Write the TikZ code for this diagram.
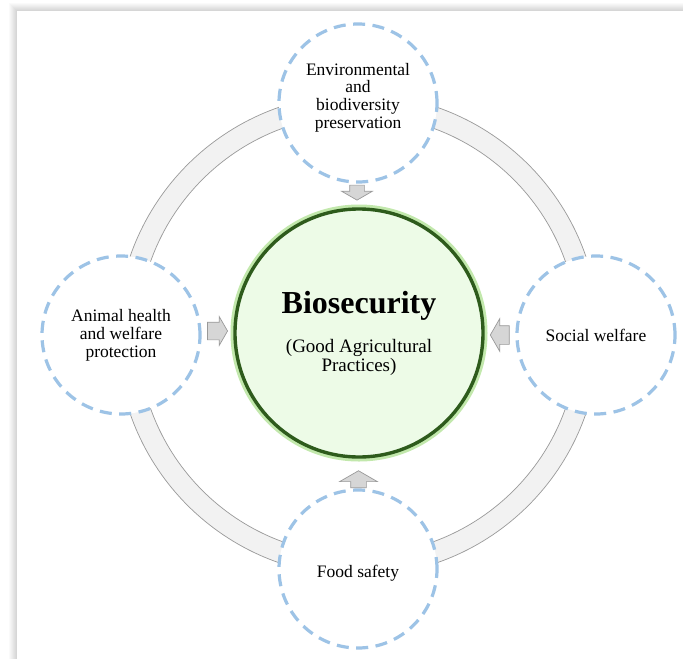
\documentclass[tikz,border=0pt]{standalone}
\usepackage{fontspec}
\setmainfont{Liberation Serif}
\usetikzlibrary{shapes.arrows}
\definecolor{dashblue}{HTML}{9DC3E6}
\definecolor{ringfill}{HTML}{F2F2F2}
\definecolor{ringline}{HTML}{9A9A9A}
\definecolor{arrfill}{HTML}{D6D6D6}
\definecolor{arrline}{HTML}{999999}
\definecolor{corefill}{HTML}{EDFBE7}
\definecolor{coreline}{HTML}{2E5B1C}
\definecolor{coreglow}{HTML}{C2E8AC}
\begin{document}
\begin{tikzpicture}[x=1pt,y=-1pt,
  sat/.style={circle, draw=dashblue, fill=white, line width=3.2pt, dash pattern=on 12pt off 7.5pt, minimum size=158pt, inner sep=0pt},
  lbl/.style={align=center, font=\fontsize{17.5}{17.8}\selectfont, inner sep=0pt},
  barrow/.style={single arrow, draw=arrline, fill=arrfill, line width=0.7pt, single arrow tip angle=120, inner xsep=0pt}]
\useasboundingbox (0,0) rectangle (683,659);
% panel shadow
\foreach \i in {0,...,7} {
  \pgfmathsetmacro\sh{2+2*\i}
  \fill[black!\sh] (9+\i,3+\i) rectangle (683,659);
}
\fill[white] (17,11) rectangle (683,659);
% ring
\fill[ringfill, even odd rule] (358,335) circle[radius=241pt] (358,335) circle[radius=220pt];
\draw[ringline, line width=0.7pt] (358,335) circle[radius=241pt] (358,335) circle[radius=220pt];
% satellites
\node[sat] (env) at (358,103) {};
\node[sat] (ani) at (121,335) {};
\node[sat] (soc) at (596,335) {};
\node[sat] (food) at (358,569) {};
% core
\draw[coreglow, line width=9pt] (359,333) circle[radius=124pt];
\node[circle, fill=corefill, draw=coreline, line width=3.4pt, minimum size=248pt, inner sep=0pt] (core) at (359,333) {};
% arrows
\node[barrow, rotate=-90, inner ysep=7pt, minimum height=15pt, minimum width=30pt, single arrow head extend=8pt] (aenv) at (357,190.5) {};
\node[barrow, rotate=0, inner ysep=8.5pt, minimum height=20pt, minimum width=28pt, single arrow head extend=5.5pt] (aani) at (215,331) {};
\node[barrow, rotate=180, inner ysep=9pt, minimum height=19pt, minimum width=32pt, single arrow head extend=7pt] (asoc) at (502.5,335) {};
\node[barrow, rotate=90, inner ysep=7.5pt, minimum height=17pt, minimum width=37pt, single arrow head extend=11pt] (afood) at (358.5,481.5) {};
% texts
\node[lbl] (envt) at (358,97.5) {Environmental\\and\\biodiversity\\preservation};
\node[lbl] (anit) at (121,335) {Animal health\\and welfare\\protection};
\node[lbl] (soct) at (596,335) {Social welfare};
\node[lbl] (foodt) at (358,573) {Food safety};
\node[font=\fontsize{32}{36}\selectfont\bfseries, anchor=base, inner sep=0pt] (biot) at (359,313) {Biosecurity};
\node[align=center, font=\fontsize{19}{19}\selectfont, inner sep=0pt] (gapt) at (359,357) {(Good Agricultural\\Practices)};
\end{tikzpicture}
\end{document}
